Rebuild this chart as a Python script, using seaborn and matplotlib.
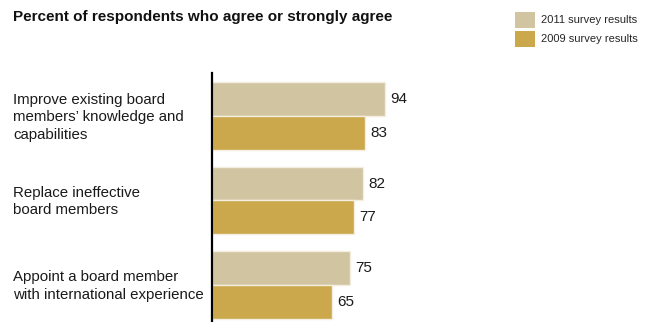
import matplotlib
matplotlib.use("Agg")
import matplotlib.pyplot as plt
import matplotlib.transforms as mtransforms
import seaborn as sns
import pandas as pd

categories = [
    "Improve existing board\nmembers\u2019 knowledge and\ncapabilities",
    "Replace ineffective\nboard members",
    "Appoint a board member\nwith international experience",
]
series_names = ["2011 survey results", "2009 survey results"]
values_2011 = [94, 82, 75]
values_2009 = [83, 77, 65]
colors = ["#D1C4A1", "#CCA84C"]

df = pd.DataFrame({
    "item": categories * 2,
    "survey": [series_names[0]] * 3 + [series_names[1]] * 3,
    "pct": values_2011 + values_2009,
})

sns.set_theme(style="white")
plt.rcParams["font.family"] = ["Liberation Sans", "DejaVu Sans"]

W, H = 649, 322
fig = plt.figure(figsize=(W / 100, H / 100), dpi=100)
ax = fig.add_axes([212 / W, 0, 184 / W, (322 - 73) / H])

sns.barplot(data=df, y="item", x="pct", hue="survey", palette=colors,
            orient="h", width=0.8, edgecolor="#F3EEDF", linewidth=1.0,
            saturation=1, ax=ax)

ax.set_xlim(0, 100)
ax.set_ylim(2.44, -0.51)
ax.set_xlabel("")
ax.set_ylabel("")
ax.set_xticks([])
ax.set_yticks([])
for s in ["top", "right", "bottom"]:
    ax.spines[s].set_visible(False)
ax.spines["left"].set_color("black")
ax.spines["left"].set_linewidth(1.6)

for cont in ax.containers:
    ax.bar_label(cont, padding=4, fontsize=11, color="#1a1a1a")

# category labels, left aligned at the figure edge
trans = mtransforms.blended_transform_factory(fig.transFigure, ax.transData)
for i, label in enumerate(categories):
    ax.text(13 / W, i + 0.015, label, transform=trans, ha="left", va="center",
            fontsize=10.8, linespacing=1.32, color="#1a1a1a", clip_on=False)

fig.text(13 / W, 1 - 17 / H, "Percent of respondents who agree or strongly agree",
         ha="left", va="center", fontsize=11, fontweight="bold", color="#111111")

sns.move_legend(ax, "upper left", bbox_to_anchor=(507 / W, 1 - 4 / H),
                bbox_transform=fig.transFigure, frameon=False, title=None,
                fontsize=8, handlelength=1.8, handleheight=1.8,
                handletextpad=0.6, labelspacing=0.3, borderpad=0.2)
for h in ax.get_legend().legend_handles:
    h.set_edgecolor("none")

fig.savefig("out.png", dpi=100)
